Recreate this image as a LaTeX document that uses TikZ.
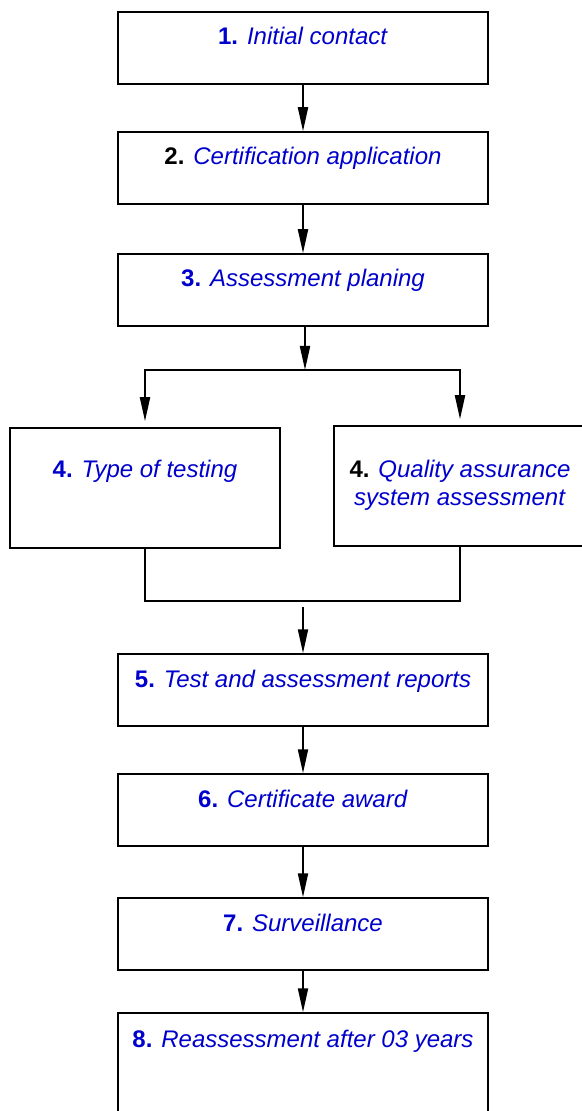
\documentclass[tikz,border=0pt]{standalone}
\usepackage{fontspec}
\setmainfont{Liberation Sans}
\usepackage{tikz}
\usetikzlibrary{positioning, arrows.meta}
\definecolor{stepblue}{RGB}{0,0,204}

\begin{document}
\begin{tikzpicture}[
    % GLOBAL CFG
    x=0.5pt, y=-0.5pt,
    font=\fontsize{12}{14}\selectfont,
    >={Triangle[length=12pt, width=5pt]},
    % Styles
    stepbox/.style={% For the main steps
        rectangle,
        draw,
        line width=0.75pt,
        inner sep=0pt,
        minimum width=185pt,
        text height=16.5pt,
        text depth=19.5pt,
        text=stepblue,
        },
    branchbox/.style={% For the two parallel steps
        stepbox,
        align=center,
        text height=25pt,
        text depth=35pt,
        },
    ArrowC1/.style={% Connectors
        line width=1pt,
        },
    ]

    \useasboundingbox (0,0) rectangle (582,1111);
    \clip (0,0) rectangle (582,1111);

    % Draw the steps
    \node [stepbox] (contact) at (303,48) {\textbf{1.} \textit{Initial contact}};
    \node [stepbox] (application) at (303,168) {\textcolor{black}{\textbf{2.}} \textit{Certification application}};
    \node [stepbox] (planing) at (303,290) {\textbf{3.} \textit{Assessment planing}};
    \node [branchbox, minimum width=135pt] (testing) at (145,488) {\textbf{4.} \textit{Type of testing}};
    \node [branchbox, minimum width=126pt, text height=39.5pt, text depth=20.5pt] (quality) at (460,486) {\textcolor{black}{\textbf{4.}} \textit{Quality assurance}\\ \textit{system assessment}};
    \node [stepbox] (reports) at (303,690) {\textbf{5.} \textit{Test and assessment reports}};
    \node [stepbox] (award) at (303,810) {\textbf{6.} \textit{Certificate award}};
    \node [stepbox] (surveillance) at (303,934) {\textbf{7.} \textit{Surveillance}};
    \node [stepbox, text height=17pt, text depth=38pt] (reassessment) at (303,1068) {\textbf{8.} \textit{Reassessment after 03 years}};

    % Split and join points
    \coordinate (split) at (305,370);
    \coordinate (join) at (303,601);
    \coordinate (merge) at (303,607);

    % Start connecting all.
    \draw [->, ArrowC1] (contact) -- (application);
    \draw [->, ArrowC1] (application) -- (planing);
    \draw [->, ArrowC1] (planing.south -| split) -- (split);
    \draw [->, ArrowC1, shorten >=3pt] (split) -| (testing);
    \draw [->, ArrowC1, shorten >=3pt] (split) -| (quality);
    \draw [ArrowC1] (testing) |- (join) -| (quality);
    \draw [->, ArrowC1] (merge) -- (reports);
    \draw [->, ArrowC1] (reports) -- (award);
    \draw [->, ArrowC1] (award) -- (surveillance);
    \draw [->, ArrowC1] (surveillance) -- (reassessment);

\end{tikzpicture}
\end{document}
